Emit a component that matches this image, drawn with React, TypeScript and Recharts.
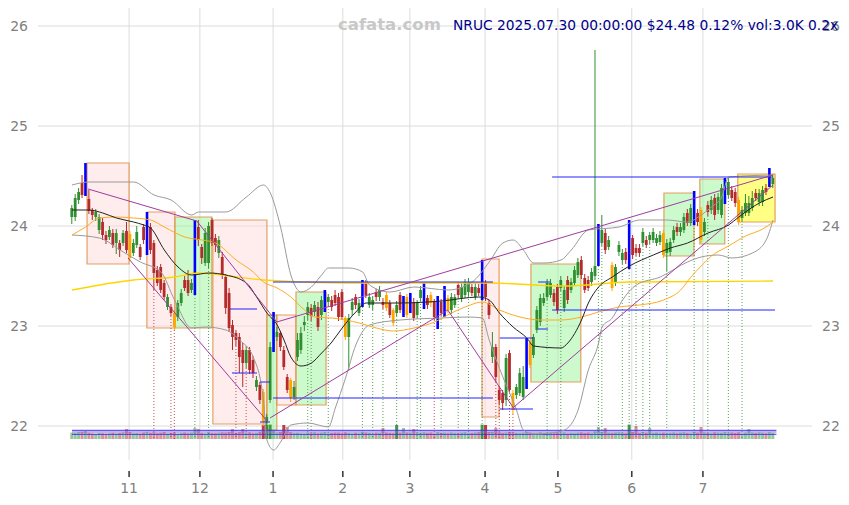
import React from 'react'
import { ComposedChart, Bar, Line, XAxis, YAxis, CartesianGrid, ReferenceArea, ReferenceLine } from 'recharts'

// daily candles: open, high, low, close
const ohlc: [number, number, number, number][] = [
  [24.09, 24.21, 24.02, 24.18], [24.09, 24.32, 24.05, 24.28], [24.26, 24.38, 24.22, 24.34], [24.43, 24.51, 24.28, 24.31],
  [24.33, 24.63, 24.3, 24.6], [24.27, 24.36, 24.12, 24.15], [24.16, 24.18, 24.06, 24.11], [24.09, 24.17, 24.05, 24.14],
  [23.96, 24.12, 23.92, 24.09], [24.04, 24.08, 23.86, 23.91], [23.91, 23.95, 23.82, 23.86], [23.89, 24.0, 23.86, 23.96],
  [23.93, 23.97, 23.78, 23.81], [23.83, 23.97, 23.72, 23.93], [23.83, 23.86, 23.69, 23.76], [23.83, 23.96, 23.8, 23.93],
  [23.95, 24.04, 23.73, 23.76], [23.92, 23.95, 23.65, 23.68], [23.73, 23.87, 23.7, 23.83], [23.81, 24.0, 23.78, 23.94],
  [23.79, 23.82, 23.66, 23.69], [23.99, 24.02, 23.82, 23.86], [23.72, 24.14, 23.71, 24.12], [23.99, 24.03, 23.72, 23.76],
  [23.83, 23.86, 23.36, 23.53], [23.56, 23.6, 23.4, 23.43], [23.59, 23.62, 23.33, 23.36], [23.43, 23.46, 23.26, 23.29],
  [23.19, 23.32, 23.16, 23.29], [23.19, 23.22, 23.1, 23.13], [23.13, 23.16, 22.96, 22.99], [23.09, 23.26, 23.05, 23.23],
  [23.23, 23.37, 23.2, 23.33], [23.46, 23.5, 23.35, 23.38], [23.46, 23.56, 23.3, 23.33], [23.36, 23.47, 23.33, 23.43],
  [23.33, 24.06, 23.31, 24.04], [23.99, 24.06, 23.8, 23.86], [23.79, 23.82, 23.62, 23.68], [23.63, 23.98, 23.6, 23.93],
  [23.63, 24.04, 23.58, 24.0], [24.06, 24.08, 23.8, 23.83], [23.88, 23.92, 23.74, 23.81], [23.73, 23.9, 23.68, 23.86],
  [23.69, 23.74, 23.47, 23.51], [23.49, 23.52, 23.12, 23.18], [23.33, 23.38, 22.94, 22.98], [23.01, 23.06, 22.76, 22.89],
  [22.93, 22.96, 22.8, 22.86], [22.89, 22.93, 22.53, 22.69], [22.76, 22.83, 22.39, 22.63], [22.63, 22.8, 22.58, 22.76],
  [22.76, 22.79, 22.52, 22.56], [22.66, 22.7, 22.48, 22.53], [22.39, 22.5, 22.35, 22.46], [22.41, 22.44, 22.22, 22.26],
  [22.34, 22.37, 22.0, 22.04], [22.04, 22.12, 21.98, 22.09], [22.26, 22.84, 22.23, 22.79], [22.76, 23.14, 22.74, 23.11],
  [22.89, 22.99, 22.85, 22.94], [22.93, 22.95, 22.75, 22.79], [22.76, 22.8, 22.56, 22.59], [22.49, 22.52, 22.33, 22.36],
  [22.46, 22.48, 22.24, 22.28], [22.29, 22.45, 22.26, 22.39], [22.69, 22.93, 22.65, 22.86], [22.76, 22.99, 22.72, 22.93],
  [23.01, 23.1, 22.95, 23.04], [23.11, 23.24, 23.06, 23.19], [23.18, 23.22, 23.05, 23.1], [23.14, 23.25, 23.1, 23.21],
  [23.19, 23.24, 22.95, 22.99], [23.11, 23.3, 23.06, 23.26], [23.16, 23.36, 23.14, 23.34], [23.24, 23.32, 23.2, 23.29],
  [23.26, 23.3, 23.15, 23.19], [23.31, 23.36, 23.2, 23.23], [23.29, 23.33, 23.05, 23.09], [23.34, 23.37, 23.06, 23.09],
  [23.08, 23.1, 22.86, 22.89], [22.89, 23.12, 22.56, 23.08], [23.16, 23.28, 23.1, 23.24], [23.29, 23.32, 23.17, 23.21],
  [23.13, 23.27, 23.1, 23.23], [23.21, 23.46, 23.19, 23.44], [23.43, 23.46, 23.28, 23.31], [23.21, 23.33, 23.18, 23.29],
  [23.21, 23.3, 23.16, 23.26], [23.34, 23.37, 23.25, 23.29], [23.29, 23.4, 23.25, 23.36], [23.24, 23.28, 23.17, 23.21],
  [23.31, 23.34, 23.15, 23.18], [23.23, 23.26, 23.08, 23.11], [23.16, 23.18, 23.0, 23.03], [23.13, 23.25, 23.1, 23.21],
  [23.31, 23.34, 23.13, 23.16], [23.11, 23.3, 23.09, 23.28], [23.29, 23.32, 23.08, 23.11], [23.16, 23.33, 23.13, 23.31],
  [23.24, 23.28, 23.05, 23.08], [23.11, 23.26, 23.08, 23.23], [23.28, 23.4, 23.25, 23.36], [23.19, 23.43, 23.17, 23.41],
  [23.28, 23.31, 23.17, 23.21], [23.31, 23.34, 23.19, 23.23], [23.24, 23.27, 23.06, 23.09], [22.99, 23.3, 22.97, 23.28],
  [23.24, 23.27, 23.1, 23.13], [23.11, 23.4, 23.09, 23.38], [23.28, 23.31, 23.13, 23.16], [23.16, 23.33, 23.12, 23.29],
  [23.21, 23.32, 23.18, 23.29], [23.41, 23.44, 23.28, 23.31], [23.28, 23.43, 23.24, 23.39], [23.31, 23.47, 23.28, 23.44],
  [23.34, 23.48, 23.3, 23.44], [23.39, 23.42, 23.3, 23.33], [23.29, 23.43, 23.26, 23.39], [23.38, 23.42, 23.3, 23.33],
  [23.28, 23.66, 23.26, 23.64], [23.43, 23.46, 23.25, 23.29], [23.23, 23.26, 23.07, 23.11], [22.69, 22.94, 22.63, 22.79],
  [22.79, 22.82, 22.44, 22.49], [22.36, 22.4, 22.22, 22.26], [22.33, 22.36, 22.16, 22.23], [22.26, 22.72, 22.2, 22.68],
  [22.73, 22.76, 22.33, 22.36], [22.33, 22.36, 22.12, 22.16], [22.31, 22.42, 22.27, 22.39], [22.33, 22.58, 22.3, 22.53],
  [22.29, 22.6, 22.26, 22.49], [22.39, 22.88, 22.37, 22.86], [22.83, 22.86, 22.58, 22.61], [22.71, 22.92, 22.68, 22.89],
  [22.96, 23.2, 22.93, 23.16], [23.04, 23.32, 23.0, 23.28], [23.23, 23.33, 23.2, 23.28], [23.29, 23.47, 23.26, 23.43],
  [23.31, 23.47, 23.28, 23.43], [23.33, 23.37, 23.2, 23.24], [23.39, 23.42, 23.12, 23.16], [23.38, 23.5, 23.35, 23.46],
  [23.18, 23.4, 23.14, 23.36], [23.46, 23.5, 23.22, 23.26], [23.36, 23.48, 23.33, 23.44], [23.43, 23.6, 23.4, 23.56],
  [23.51, 23.68, 23.48, 23.64], [23.66, 23.7, 23.47, 23.51], [23.48, 23.52, 23.33, 23.36], [23.46, 23.5, 23.35, 23.38],
  [23.44, 23.58, 23.4, 23.54], [23.5, 25.76, 23.46, 23.6], [23.63, 24.02, 23.6, 23.99], [23.83, 24.11, 23.8, 23.96],
  [23.93, 23.97, 23.72, 23.76], [23.79, 23.9, 23.76, 23.86], [23.61, 23.64, 23.35, 23.38], [23.43, 23.62, 23.4, 23.59],
  [23.74, 23.85, 23.7, 23.81], [23.66, 23.77, 23.62, 23.73], [23.74, 23.78, 23.62, 23.66], [23.59, 24.06, 23.57, 24.04],
  [23.88, 23.91, 23.67, 23.71], [23.78, 23.82, 23.7, 23.73], [23.78, 23.82, 23.69, 23.73], [23.83, 23.98, 23.8, 23.94],
  [23.86, 23.9, 23.78, 23.81], [23.86, 23.94, 23.82, 23.91], [23.86, 23.98, 23.83, 23.94], [23.83, 23.92, 23.8, 23.88],
  [23.84, 23.95, 23.81, 23.91], [23.93, 23.96, 23.68, 23.71], [23.73, 23.87, 23.55, 23.83], [23.74, 23.88, 23.7, 23.84],
  [23.86, 24.0, 23.83, 23.96], [23.99, 24.03, 23.9, 23.94], [23.94, 24.03, 23.9, 23.99], [23.96, 24.13, 23.93, 24.09],
  [24.13, 24.17, 24.0, 24.03], [24.03, 24.22, 24.0, 24.18], [24.03, 24.35, 24.01, 24.33], [24.13, 24.17, 24.0, 24.04],
  [24.16, 24.19, 23.83, 23.86], [23.94, 24.08, 23.9, 24.04], [24.21, 24.25, 24.1, 24.14], [24.16, 24.3, 24.12, 24.26],
  [24.28, 24.32, 24.06, 24.11], [24.16, 24.33, 24.12, 24.29], [24.11, 24.42, 24.08, 24.38], [24.24, 24.48, 24.22, 24.46],
  [24.31, 24.48, 24.28, 24.44], [24.36, 24.4, 24.25, 24.28], [24.34, 24.38, 24.19, 24.23], [24.26, 24.29, 24.01, 24.04],
  [24.08, 24.2, 24.05, 24.16], [24.13, 24.32, 24.1, 24.23], [24.13, 24.3, 24.1, 24.23], [24.18, 24.35, 24.15, 24.28],
  [24.33, 24.37, 24.25, 24.28], [24.24, 24.37, 24.2, 24.33], [24.24, 24.4, 24.2, 24.36], [24.38, 24.42, 24.31, 24.34],
  [24.41, 24.58, 24.39, 24.56], [24.42, 24.52, 24.38, 24.48],
]

// volume in K
const volumes = [
  3.2, 3.0, 3.4, 3.6, 4.0, 3.1, 2.8, 2.6, 3.0, 2.9,
  2.7, 2.9, 3.1, 2.8, 3.0, 3.3, 5.0, 3.5, 2.9, 3.0,
  2.8, 3.2, 3.6, 3.0, 3.4, 2.9, 3.1, 3.5, 2.8, 3.0,
  3.3, 2.7, 3.0, 3.2, 2.9, 3.1, 5.5, 5.0, 3.0, 2.8,
  3.4, 3.0, 2.9, 3.1, 3.3, 3.2, 3.5, 5.0, 3.0, 3.4,
  5.0, 3.1, 3.3, 2.9, 3.0, 3.6, 7.0, 7.0, 7.2, 4.0,
  3.2, 3.5, 7.0, 6.0, 3.4, 3.0, 3.1, 2.9, 2.8, 3.2,
  3.0, 3.3, 2.9, 3.1, 3.4, 2.8, 3.0, 3.2, 3.1, 2.9,
  3.3, 3.0, 2.8, 3.1, 2.9, 3.6, 3.2, 3.0, 2.7, 3.1,
  3.0, 5.5, 3.2, 3.0, 2.9, 7.0, 3.1, 5.5, 3.2, 3.0,
  5.0, 3.1, 2.9, 3.3, 3.0, 3.2, 2.8, 3.4, 3.0, 3.1,
  2.9, 3.2, 3.0, 2.8, 3.1, 3.3, 2.9, 3.0, 3.2, 3.4,
  7.2, 7.0, 3.5, 3.6, 5.5, 3.4, 3.0, 3.2, 3.5, 3.3,
  3.0, 2.9, 3.1, 3.6, 3.2, 3.0, 2.9, 3.3, 3.0, 2.8,
  3.1, 2.9, 3.4, 3.0, 3.2, 2.8, 3.0, 2.9, 3.1, 3.3,
  3.0, 3.2, 2.9, 3.8, 6.0, 3.4, 5.5, 3.1, 3.0, 3.2,
  3.3, 3.0, 2.9, 7.2, 3.5, 6.5, 3.0, 3.4, 3.1, 5.5,
  3.0, 3.2, 2.9, 3.1, 2.8, 3.0, 3.2, 2.9, 3.1, 3.3,
  3.0, 2.8, 3.6, 3.1, 6.0, 3.2, 3.0, 2.9, 3.3, 3.1,
  3.0, 3.4, 2.9, 3.2, 3.0, 3.3, 2.8, 3.1, 5.0, 3.2,
  3.0, 3.3, 3.1, 2.9, 3.4, 3.0,
]

const blueDays = [4, 22, 36, 59, 74, 85, 97, 99, 103, 107, 109, 120, 133, 154, 163, 182, 191, 204]
const orangeDays = [17, 30, 56, 64, 80, 92, 94, 98, 105, 110, 129, 134, 158, 173, 184, 195]
const redDrops = [24, 29, 30, 48, 51, 57, 106, 124, 125, 128, 129]
const greenDrops = [36, 40, 69, 70, 75, 85, 88, 91, 95, 101, 102, 108, 113, 116, 120, 139, 143, 154, 155, 161, 163, 165, 167, 169, 174, 182, 186, 192, 196]

const monthTicks = [16.7, 37.4, 58.8, 79.2, 98.8, 120.8, 142.1, 163.7, 184.5]
const monthLabels = ['11', '12', '1', '2', '3', '4', '5', '6', '7']
const priceTicks = [22, 23, 24, 25, 26]

// [day index, price]
const maShort = [
  [0, 24.16], [5, 24.16], [9, 24.13], [13, 24.08], [18, 24.04], [21, 24.01], [23, 23.98], [27, 23.76], [31, 23.59],
  [35, 23.51], [40, 23.53], [45, 23.51], [51, 23.43], [54, 23.29], [57, 23.13], [60, 23.01], [62, 22.86], [64, 22.69],
  [67, 22.6], [70, 22.63], [73, 22.73], [76, 22.84], [79, 22.98], [83, 23.14], [86, 23.23], [96, 23.23], [108, 23.25],
  [119, 23.29], [122, 23.26], [125, 23.13], [129, 22.99], [133, 22.88], [135, 22.8], [143, 22.78], [145, 22.83],
  [149, 23.06], [151, 23.23], [154, 23.39], [158, 23.49], [163, 23.6], [170, 23.71], [175, 23.78], [180, 23.83],
  [186, 23.93], [192, 24.01], [195, 24.09], [201, 24.23], [205, 24.29],
]
const maMid = [
  [0, 23.91], [4, 23.99], [8, 24.08], [13, 24.09], [18, 24.08], [23, 24.06], [27, 23.99], [33, 23.89], [38, 23.86],
  [42, 23.83], [48, 23.66], [53, 23.54], [56, 23.44], [60, 23.38], [64, 23.29], [68, 23.16], [71, 23.09], [76, 23.08],
  [84, 23.03], [89, 22.98], [94, 22.95], [100, 22.98], [106, 23.04], [111, 23.13], [115, 23.19], [120, 23.24],
  [125, 23.16], [131, 23.09], [137, 23.06], [143, 23.06], [149, 23.09], [154, 23.14], [160, 23.19], [166, 23.21],
  [173, 23.26], [178, 23.36], [181, 23.49], [184, 23.6], [187, 23.7], [192, 23.8], [197, 23.9], [202, 23.97], [205, 24.04],
]
const maLong = [
  [0, 23.36], [18, 23.46], [30, 23.49], [37, 23.53], [46, 23.5], [56, 23.46], [80, 23.43], [122, 23.43], [144, 23.4],
  [163, 23.44], [205, 23.45],
]
const bandUpper = [
  [0, 24.41], [5, 24.44], [18, 24.44], [24, 24.31], [29, 24.26], [35, 24.11], [37, 24.14], [45, 24.14], [51, 24.29],
  [56, 24.41], [58, 24.33], [61, 23.99], [64, 23.51], [67, 23.34], [70, 23.39], [73, 23.51], [75, 23.58], [81, 23.58],
  [85, 23.54], [87, 23.41], [93, 23.34], [100, 23.39], [110, 23.36], [117, 23.44], [122, 23.64], [126, 23.83],
  [129, 23.86], [132, 23.76], [135, 23.63], [138, 23.63], [143, 23.66], [146, 23.76], [151, 23.96], [160, 23.99],
  [166, 24.06], [174, 24.06], [180, 24.04], [184, 24.11], [187, 24.19], [190, 24.29], [192, 24.49], [205, 24.51],
]
const bandLower = [
  [0, 23.91], [8, 23.88], [15, 23.74], [20, 23.64], [26, 23.54], [30, 23.26], [35, 22.98], [39, 22.99], [45, 22.96],
  [49, 22.86], [53, 22.69], [56, 22.26], [57, 21.86], [59, 21.76], [61, 21.84], [64, 22.01], [69, 22.03], [75, 21.99],
  [77, 22.18], [80, 22.48], [83, 22.81], [87, 23.01], [96, 23.06], [108, 23.08], [116, 23.09], [120, 23.08],
  [122, 22.86], [126, 22.49], [130, 22.16], [132, 21.96], [135, 21.92], [140, 21.93], [144, 21.96], [148, 22.16],
  [151, 22.56], [154, 22.83], [155, 22.99], [158, 23.08], [161, 23.26], [165, 23.41], [172, 23.49], [180, 23.64],
  [184, 23.69], [189, 23.71], [193, 23.68], [199, 23.73], [203, 23.86], [205, 24.06],
]

// trend lines [x1, p1, x2, p2]
const trendLines = [
  [4.7, 24.37, 36.5, 24.05], [36.5, 24.05, 59.9, 23.04], [16.4, 23.68, 57.3, 22.04], [59.9, 23.04, 205, 24.51],
  [57.9, 22.08, 109.9, 23.16], [109.9, 23.16, 129.5, 22.16], [128.9, 22.18, 205, 24.41],
]
// horizontal levels [price, x1, x2]
const levels = [
  [23.44, 58.8, 123.1], [22.28, 58.8, 123.1], [23.17, 46.2, 54.1], [22.53, 46.8, 54.1], [22.44, 55, 57.9],
  [22.04, 55, 57.9], [22.88, 125.1, 134.8], [22.17, 125.1, 134.8], [23.44, 136.3, 139.8], [22.97, 136.3, 139.2],
  [23.16, 140.4, 205.6], [24.49, 140.4, 205],
]
// boxes [x1, x2, top, bottom, kind]
const zones: [number, number, number, number, string][] = [
  [4.4, 16.7, 24.63, 23.62, 'down'], [21.9, 30.1, 24.14, 22.98, 'down'], [30.1, 40.9, 24.09, 22.98, 'up'],
  [41.2, 57.0, 24.06, 22.02, 'down'], [57.0, 59.9, 23.11, 21.96, 'up'], [59.9, 65.5, 23.11, 22.21, 'down'],
  [65.5, 74.3, 23.34, 22.21, 'up'], [119.9, 124.9, 23.67, 22.09, 'down'], [134.2, 148.8, 23.62, 22.44, 'up'],
  [173.1, 181.9, 24.33, 23.7, 'up'], [183.6, 190.9, 24.47, 23.82, 'up'], [194.7, 205.6, 24.52, 24.04, 'now'],
]
// volume average lines (K)
const volLevels = [[4.35, '#3333ff'], [3.5, '#9b5fc0'], [2.35, '#3333ff']] as const

const X_DOMAIN = [-9.94, 216.4]
const P_DOMAIN = [21.66, 26.18]

const GREEN = '#2f8f2f'
const RED = '#b52a2a'
const FLOOR = 21.87

const data = ohlc.map(([o, h, l, c], i) => ({ i, o, h, l, c, range: [l, h], vol: volumes[i] }))
const pts = (arr: number[][]) => arr.map(([i, p]) => ({ i, p }))

function Candle(props: any) {
  const { x, y, width, height, payload } = props
  const { o, h, l, c, i } = payload
  const top = Math.min(y, y + height)
  const k = Math.abs(height) / (h - l)
  const py = (v: number) => top + (h - v) * k
  const cx = x + width / 2
  const up = c >= o
  const drop = redDrops.includes(i) ? RED : greenDrops.includes(i) ? GREEN : null
  let body
  if (blueDays.includes(i)) {
    body = <rect x={cx - 1.3} y={py(h)} width={2.6} height={py(l) - py(h)} fill='#0000ff' />
  } else {
    const col = orangeDays.includes(i) ? '#ffa500' : up ? GREEN : RED
    const bt = py(Math.max(o, c))
    const bb = py(Math.min(o, c))
    body = (
      <g>
        <line x1={cx} x2={cx} y1={py(h)} y2={py(l)} stroke={col} strokeWidth={1} />
        <rect x={cx - 1.4} y={bt} width={2.8} height={Math.max(1, bb - bt)} fill={col} />
      </g>
    )
  }
  return (
    <g>
      {drop && (
        <line x1={cx} x2={cx} y1={py(l)} y2={py(FLOOR)} stroke={drop} strokeWidth={1} strokeDasharray='1 2' opacity={0.8} />
      )}
      {body}
    </g>
  )
}

function VolBar(props: any) {
  const { x, y, width, height, payload } = props
  const col = payload.c >= payload.o ? GREEN : RED
  return <rect x={x} y={y} width={width} height={height} fill={col} fillOpacity={payload.vol >= 6.8 ? 0.9 : 0.5} />
}

const LeftTick = (props: any) => (
  <text x={28} y={props.y} dy={5} textAnchor='end' fill='#7f7f7f' fontSize={14} fontFamily='DejaVu Sans'>
    {props.payload.value}
  </text>
)
const RightTick = (props: any) => (
  <text x={822} y={props.y} dy={5} textAnchor='start' fill='#7f7f7f' fontSize={14} fontFamily='DejaVu Sans'>
    {props.payload.value}
  </text>
)
const MonthTick = (props: any) => {
  const idx = monthTicks.indexOf(props.payload.value)
  return (
    <g>
      <line x1={props.x} x2={props.x} y1={471} y2={477} stroke='#333' strokeWidth={1.5} />
      <text x={props.x} y={493} textAnchor='middle' fill='#7f7f7f' fontSize={14} fontFamily='DejaVu Sans'>
        {monthLabels[idx]}
      </text>
    </g>
  )
}

// grid only at the tick values (no frame round the plot)
const gridRows = (g: any) =>
  priceTicks.map((t) => g.offset.top + ((P_DOMAIN[1] - t) / (P_DOMAIN[1] - P_DOMAIN[0])) * g.offset.height)
const gridCols = (g: any) =>
  monthTicks.map((t) => g.offset.left + ((t - X_DOMAIN[0]) / (X_DOMAIN[1] - X_DOMAIN[0])) * g.offset.width)

const zoneFill: Record<string, string> = { down: '#ffdada', up: '#9cf59c', now: '#ffff66' }
const zoneOpacity: Record<string, number> = { down: 0.5, up: 0.5, now: 0.8 }

export default function App() {
  return (
    <div style={{ position: 'absolute', left: 0, top: 0, width: 849, height: 505, background: '#fff' }}>
      <ComposedChart width={849} height={505} data={data} margin={{ top: 8, right: 0, bottom: 0, left: 0 }}>
        <XAxis
          xAxisId='x'
          dataKey='i'
          type='number'
          domain={X_DOMAIN}
          ticks={monthTicks}
          interval={0}
          allowDataOverflow
          height={45}
          axisLine={false}
          tickLine={false}
          tick={<MonthTick />}
        />
        <XAxis xAxisId='v' dataKey='i' type='number' domain={X_DOMAIN} allowDataOverflow hide />
        <YAxis
          yAxisId='p'
          orientation='left'
          width={38}
          domain={P_DOMAIN}
          ticks={priceTicks}
          allowDataOverflow
          axisLine={false}
          tickLine={false}
          tick={<LeftTick />}
        />
        <YAxis
          yAxisId='pr'
          orientation='right'
          width={37}
          domain={P_DOMAIN}
          ticks={priceTicks}
          allowDataOverflow
          axisLine={false}
          tickLine={false}
          tick={<RightTick />}
        />
        <YAxis yAxisId='v' domain={[-10.5, 215.5]} allowDataOverflow hide />
        <CartesianGrid
          xAxisId='x'
          yAxisId='p'
          stroke='#dcdcdc'
          horizontalCoordinatesGenerator={gridRows}
          verticalCoordinatesGenerator={gridCols}
        />
        {zones.map(([x1, x2, t, b, kind], n) => (
          <ReferenceArea
            key={'z' + n}
            xAxisId='x'
            yAxisId='p'
            x1={x1}
            x2={x2}
            y1={b}
            y2={t}
            fill={zoneFill[kind]}
            fillOpacity={zoneOpacity[kind]}
            stroke='#e0904a'
            strokeOpacity={0.85}
            strokeWidth={1.2}
          />
        ))}
        <Bar xAxisId='v' yAxisId='v' dataKey='vol' barSize={3} shape={<VolBar />} isAnimationActive={false} />
        {volLevels.map(([v, col], n) => (
          <ReferenceLine
            key={'vl' + n}
            xAxisId='v'
            yAxisId='v'
            segment={[{ x: 0, y: v }, { x: 206, y: v }]}
            stroke={col}
            strokeWidth={1}
          />
        ))}
        <Line data={pts(maLong)} xAxisId='x' yAxisId='pr' dataKey='p' type='monotone' stroke='#ffd500' strokeWidth={1.3} dot={false} isAnimationActive={false} />
        <Line data={pts(bandUpper)} xAxisId='x' yAxisId='pr' dataKey='p' type='monotone' stroke='#9a9a9a' strokeWidth={1} dot={false} isAnimationActive={false} />
        <Line data={pts(bandLower)} xAxisId='x' yAxisId='pr' dataKey='p' type='monotone' stroke='#9a9a9a' strokeWidth={1} dot={false} isAnimationActive={false} />
        <Line data={pts(maMid)} xAxisId='x' yAxisId='pr' dataKey='p' type='monotone' stroke='#ffaa22' strokeWidth={1} dot={false} isAnimationActive={false} />
        <Line data={pts(maShort)} xAxisId='x' yAxisId='pr' dataKey='p' type='monotone' stroke='#222222' strokeWidth={1} dot={false} isAnimationActive={false} />
        {levels.map(([p, x1, x2], n) => (
          <ReferenceLine
            key={'lv' + n}
            xAxisId='x'
            yAxisId='p'
            segment={[{ x: x1, y: p }, { x: x2, y: p }]}
            stroke='#2222ff'
            strokeWidth={1}
          />
        ))}
        {trendLines.map(([x1, p1, x2, p2], n) => (
          <ReferenceLine
            key={'tl' + n}
            xAxisId='x'
            yAxisId='p'
            segment={[{ x: x1, y: p1 }, { x: x2, y: p2 }]}
            stroke='#a03ca0'
            strokeWidth={1}
          />
        ))}
        <Bar xAxisId='x' yAxisId='p' dataKey='range' barSize={3} shape={<Candle />} isAnimationActive={false} />
      </ComposedChart>
      <div
        style={{
          position: 'absolute',
          left: 338,
          top: 15,
          fontFamily: 'DejaVu Sans',
          fontWeight: 'bold',
          fontSize: 16.5,
          color: '#c8c8c8',
          lineHeight: '20px',
          whiteSpace: 'nowrap',
        }}
      >
        cafata.com
      </div>
      <div
        style={{
          position: 'absolute',
          left: 453,
          top: 17,
          fontFamily: 'DejaVu Sans',
          fontSize: 13.8,
          color: '#00008b',
          lineHeight: '17px',
          whiteSpace: 'nowrap',
        }}
      >
        NRUC 2025.07.30 00:00:00 $24.48 0.12% vol:3.0K 0.2x
      </div>
    </div>
  )
}
